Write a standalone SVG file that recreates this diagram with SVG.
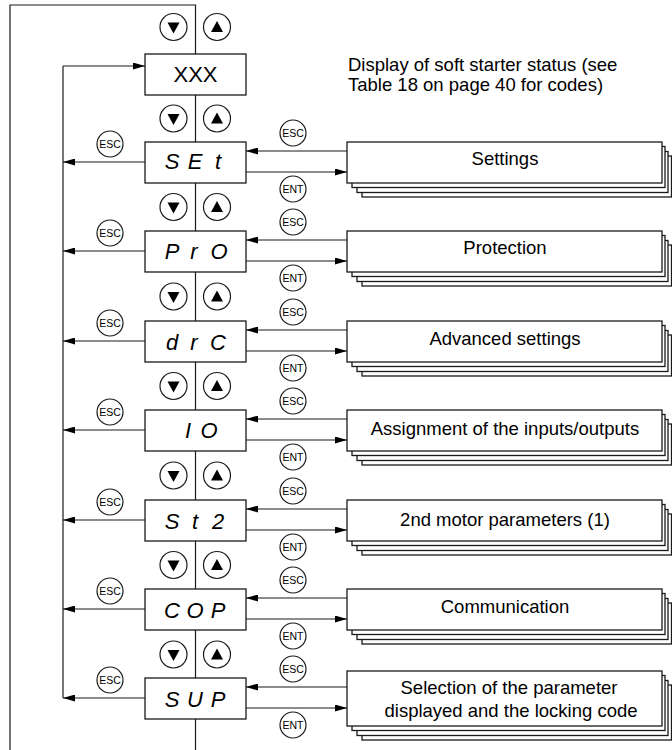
<svg xmlns="http://www.w3.org/2000/svg" width="672" height="750" viewBox="0 0 672 750">
<style>
.ln{fill:none;stroke:#1a1a1a;stroke-width:1.2}
.box{fill:#fff;stroke:#1a1a1a;stroke-width:1.3}
.btn{fill:#fff;stroke:#1a1a1a;stroke-width:1.2}
.tri{fill:#000}
.key{font-family:"Liberation Sans",Arial,sans-serif;font-size:10.5px;text-anchor:middle;fill:#000}
.lbl{font-family:"Liberation Sans",Arial,sans-serif;font-size:18.5px;text-anchor:middle;fill:#000}
.note{font-family:"Liberation Sans",Arial,sans-serif;font-size:18.5px;fill:#000}
.seg{font-family:"Liberation Sans",Arial,sans-serif;font-size:22px;font-style:italic;text-anchor:middle;fill:#000}
.xxx{font-family:"Liberation Sans",Arial,sans-serif;font-size:22px;text-anchor:middle;fill:#000}
</style>
<defs>
<marker id="ah" markerUnits="userSpaceOnUse" markerWidth="12" markerHeight="7" refX="12" refY="3.5" orient="auto">
<path d="M0,0 L12,3.5 L0,7 z" fill="#000"/>
</marker>
<g id="btnpair">
<circle class="btn" cx="173.5" cy="0" r="13.5"/>
<path class="tri" d="M167.5,-4.5 L179.5,-4.5 L173.5,6.5 z"/>
<circle class="btn" cx="217" cy="0" r="13.5"/>
<path class="tri" d="M211,5 L223,5 L217,-6 z"/>
</g>
<g id="stack">
<rect class="box" x="362" y="14" width="309.5" height="41"/>
<rect class="box" x="357" y="9.5" width="311" height="41"/>
<rect class="box" x="352" y="4.5" width="313" height="41"/>
<rect class="box" x="347" y="0" width="315" height="41"/>
</g>
</defs>

<g id="connectors">
<path class="ln" d="M10,750 V5 H195.5 V750"/>
<path class="ln" d="M63,66 V698"/>
<line class="ln" x1="63" y1="66" x2="145" y2="66" marker-end="url(#ah)"/>
<line class="ln" x1="145" y1="162" x2="63" y2="162" marker-end="url(#ah)"/>
<line class="ln" x1="145" y1="251" x2="63" y2="251" marker-end="url(#ah)"/>
<line class="ln" x1="145" y1="341" x2="63" y2="341" marker-end="url(#ah)"/>
<line class="ln" x1="145" y1="430" x2="63" y2="430" marker-end="url(#ah)"/>
<line class="ln" x1="145" y1="520" x2="63" y2="520" marker-end="url(#ah)"/>
<line class="ln" x1="145" y1="609" x2="63" y2="609" marker-end="url(#ah)"/>
<line class="ln" x1="145" y1="698" x2="63" y2="698" marker-end="url(#ah)"/>
<line class="ln" x1="347" y1="151" x2="246" y2="151" marker-end="url(#ah)"/>
<line class="ln" x1="246" y1="172" x2="347" y2="172" marker-end="url(#ah)"/>
<line class="ln" x1="347" y1="240" x2="246" y2="240" marker-end="url(#ah)"/>
<line class="ln" x1="246" y1="261" x2="347" y2="261" marker-end="url(#ah)"/>
<line class="ln" x1="347" y1="330" x2="246" y2="330" marker-end="url(#ah)"/>
<line class="ln" x1="246" y1="351" x2="347" y2="351" marker-end="url(#ah)"/>
<line class="ln" x1="347" y1="419" x2="246" y2="419" marker-end="url(#ah)"/>
<line class="ln" x1="246" y1="440" x2="347" y2="440" marker-end="url(#ah)"/>
<line class="ln" x1="347" y1="509" x2="246" y2="509" marker-end="url(#ah)"/>
<line class="ln" x1="246" y1="530" x2="347" y2="530" marker-end="url(#ah)"/>
<line class="ln" x1="347" y1="598" x2="246" y2="598" marker-end="url(#ah)"/>
<line class="ln" x1="246" y1="619" x2="347" y2="619" marker-end="url(#ah)"/>
<line class="ln" x1="347" y1="687" x2="246" y2="687" marker-end="url(#ah)"/>
<line class="ln" x1="246" y1="708" x2="347" y2="708" marker-end="url(#ah)"/>
</g>

<g id="buttons">
<use href="#btnpair" y="27"/>
<use href="#btnpair" y="118.5"/>
<use href="#btnpair" y="207"/>
<use href="#btnpair" y="296.5"/>
<use href="#btnpair" y="386"/>
<use href="#btnpair" y="475.5"/>
<use href="#btnpair" y="565"/>
<use href="#btnpair" y="654.5"/>
</g>

<g id="keys">
<circle class="btn" cx="110" cy="144" r="13"/><text class="key" x="110" y="148">ESC</text>
<circle class="btn" cx="110" cy="233" r="13"/><text class="key" x="110" y="237">ESC</text>
<circle class="btn" cx="110" cy="323" r="13"/><text class="key" x="110" y="327">ESC</text>
<circle class="btn" cx="110" cy="412" r="13"/><text class="key" x="110" y="416">ESC</text>
<circle class="btn" cx="110" cy="502" r="13"/><text class="key" x="110" y="506">ESC</text>
<circle class="btn" cx="110" cy="591" r="13"/><text class="key" x="110" y="595">ESC</text>
<circle class="btn" cx="110" cy="680" r="13"/><text class="key" x="110" y="684">ESC</text>

<circle class="btn" cx="293" cy="133" r="13"/><text class="key" x="293" y="137">ESC</text>
<circle class="btn" cx="293" cy="189" r="13"/><text class="key" x="293" y="193">ENT</text>
<circle class="btn" cx="293" cy="222" r="13"/><text class="key" x="293" y="226">ESC</text>
<circle class="btn" cx="293" cy="278" r="13"/><text class="key" x="293" y="282">ENT</text>
<circle class="btn" cx="293" cy="312" r="13"/><text class="key" x="293" y="316">ESC</text>
<circle class="btn" cx="293" cy="368" r="13"/><text class="key" x="293" y="372">ENT</text>
<circle class="btn" cx="293" cy="401" r="13"/><text class="key" x="293" y="405">ESC</text>
<circle class="btn" cx="293" cy="457" r="13"/><text class="key" x="293" y="461">ENT</text>
<circle class="btn" cx="293" cy="491" r="13"/><text class="key" x="293" y="495">ESC</text>
<circle class="btn" cx="293" cy="547" r="13"/><text class="key" x="293" y="551">ENT</text>
<circle class="btn" cx="293" cy="580" r="13"/><text class="key" x="293" y="584">ESC</text>
<circle class="btn" cx="293" cy="636" r="13"/><text class="key" x="293" y="640">ENT</text>
<circle class="btn" cx="293" cy="669" r="13"/><text class="key" x="293" y="673">ESC</text>
<circle class="btn" cx="293" cy="725" r="13"/><text class="key" x="293" y="729">ENT</text>
</g>

<g id="status">
<rect class="box" x="145" y="54" width="101" height="41"/>
<text class="xxx" x="195.5" y="82">XXX</text>
<text class="note" x="348" y="71">Display of soft starter status (see</text>
<text class="note" x="348" y="91">Table 18 on page 40 for codes)</text>
</g>

<g id="SEt">
<rect class="box" x="145" y="142" width="101" height="41"/>
<text class="seg" x="172 195 218" y="169">SEt</text>
</g>
<g id="PrO">
<rect class="box" x="145" y="231" width="101" height="41"/>
<text class="seg" x="172 194 219" y="259">PrO</text>
</g>
<g id="drC">
<rect class="box" x="145" y="321" width="101" height="41"/>
<text class="seg" x="172 194 218" y="350">drC</text>
</g>
<g id="IO">
<rect class="box" x="145" y="410" width="101" height="41"/>
<text class="seg" x="188 209" y="438">IO</text>
</g>
<g id="St2">
<rect class="box" x="145" y="500" width="101" height="41"/>
<text class="seg" x="172 195 218" y="529">St2</text>
</g>
<g id="COP">
<rect class="box" x="145" y="589" width="101" height="41"/>
<text class="seg" x="172 195 218" y="618">COP</text>
</g>
<g id="SUP">
<rect class="box" x="145" y="678" width="101" height="41"/>
<text class="seg" x="172 195 218" y="707">SUP</text>
</g>

<g id="settings">
<use href="#stack" y="142"/>
<text class="lbl" x="505" y="165">Settings</text>
</g>
<g id="protection">
<use href="#stack" y="231"/>
<text class="lbl" x="505" y="253.5">Protection</text>
</g>
<g id="advanced">
<use href="#stack" y="321"/>
<text class="lbl" x="505" y="345">Advanced settings</text>
</g>
<g id="assignment">
<use href="#stack" y="410"/>
<text class="lbl" x="505" y="435">Assignment of the inputs/outputs</text>
</g>
<g id="motor2">
<use href="#stack" y="500"/>
<text class="lbl" x="505" y="526">2nd motor parameters (1)</text>
</g>
<g id="communication">
<use href="#stack" y="589"/>
<text class="lbl" x="505" y="613">Communication</text>
</g>
<g id="selection">
<rect class="box" x="362" y="685" width="309.5" height="55"/>
<rect class="box" x="357" y="680.5" width="311" height="55"/>
<rect class="box" x="352" y="675.5" width="313" height="55"/>
<rect class="box" x="347" y="671" width="315" height="55"/>
<text class="lbl" x="509" y="693.5">Selection of the parameter</text>
<text class="lbl" x="511" y="716.5">displayed and the locking code</text>
</g>
</svg>
